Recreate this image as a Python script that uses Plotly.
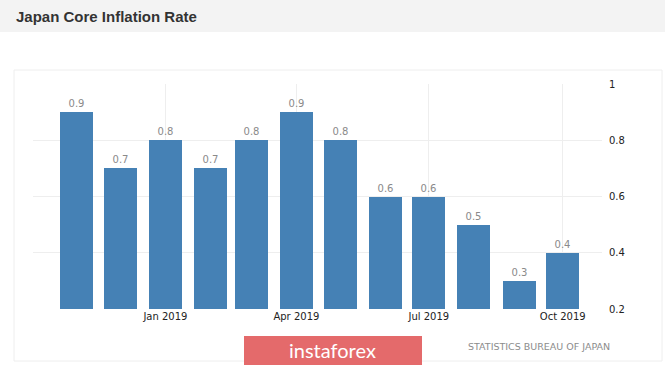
import plotly.graph_objects as go

# ---- data ----
months = ["2018-11-01", "2018-12-01", "2019-01-01", "2019-02-01", "2019-03-01", "2019-04-01",
          "2019-05-01", "2019-06-01", "2019-07-01", "2019-08-01", "2019-09-01", "2019-10-01"]
values = [0.9, 0.7, 0.8, 0.7, 0.8, 0.9, 0.8, 0.6, 0.6, 0.5, 0.3, 0.4]
tick_dates = ["2019-01-01", "2019-04-01", "2019-07-01", "2019-10-01"]
tick_labels = ["Jan 2019", "Apr 2019", "Jul 2019", "Oct 2019"]
y_ticks = [0.2, 0.4, 0.6, 0.8, 1]
y_tick_labels = ["0.2", "0.4", "0.6", "0.8", "1"]
title_text = "Japan Core Inflation Rate"
source_text = "STATISTICS BUREAU OF JAPAN"
watermark_text = "instaforex"

# ---- layout geometry (pixels) ----
W, H = 665, 367
L, R, T, B = 33, 63, 84, 58
pw, ph = W - L - R, H - T - B

def px(x):
    return (x - L) / pw

def py(y):
    return (H - B - y) / ph

DAY_MS = 86400000
fig = go.Figure()
fig.add_trace(go.Bar(
    x=months, y=values,
    width=[22.7 * DAY_MS] * len(values),
    marker=dict(color="#4581b5", line=dict(width=0)),
    text=[f"{v:.1f}" for v in values],
    textposition="outside",
    textfont=dict(family="DejaVu Sans", size=10, color="#8a8a8a"),
    cliponaxis=False,
    hoverinfo="x+y",
))

shapes = [
    # top banner
    dict(type="rect", xref="paper", yref="paper", x0=px(0), x1=px(W), y0=py(32), y1=py(0),
         fillcolor="#f3f3f3", line=dict(width=0), layer="below"),
    # card border
    dict(type="rect", xref="paper", yref="paper", x0=px(14), x1=px(662), y0=py(361), y1=py(70),
         fillcolor="rgba(0,0,0,0)", line=dict(color="#eeeeee", width=1), layer="below"),
    # watermark box
    dict(type="rect", xref="paper", yref="paper", x0=px(244), x1=px(422), y0=py(365), y1=py(336),
         fillcolor="#e46a6b", line=dict(width=0), layer="above"),
]

annotations = [
    dict(text=title_text, xref="paper", yref="paper", x=px(14), y=py(16), xanchor="left",
         yanchor="middle", showarrow=False,
         font=dict(family="Liberation Sans", size=15, color="#333333", weight="bold")),
    dict(text=source_text, xref="paper", yref="paper", x=px(612), y=py(346), xanchor="right",
         yanchor="middle", showarrow=False,
         font=dict(family="DejaVu Sans", size=9.5, color="#8c8c8c")),
    dict(text=watermark_text, xref="paper", yref="paper", x=px(332), y=py(350), xanchor="center",
         yanchor="middle", showarrow=False,
         font=dict(family="Lato", size=20, color="#ffffff")),
]

fig.update_layout(
    width=W, height=H,
    margin=dict(l=L, r=R, t=T, b=B, pad=0),
    paper_bgcolor="#ffffff", plot_bgcolor="#ffffff",
    showlegend=False,
    bargap=0,
    shapes=shapes,
    annotations=annotations,
    xaxis=dict(
        type="date",
        range=["2018-10-02", "2019-10-28"],
        tickmode="array", tickvals=tick_dates, ticktext=tick_labels,
        showgrid=True, gridcolor="#eeeeee", gridwidth=1,
        showline=False, zeroline=False, ticks="",
        tickfont=dict(family="DejaVu Sans", size=10, color="#222222"),
        fixedrange=True,
    ),
    yaxis=dict(
        side="right",
        range=[0.2, 1.0],
        tickmode="array", tickvals=y_ticks, ticktext=y_tick_labels,
        showgrid=True, gridcolor="#eeeeee", gridwidth=1,
        showline=False, zeroline=False, ticks="outside", ticklen=4, tickcolor="rgba(0,0,0,0)",
        tickfont=dict(family="DejaVu Sans", size=10, color="#222222"),
        fixedrange=True,
    ),
)

fig.write_html(
    "out.html",
    config={"displayModeBar": False},
    post_script="document.body.style.margin='0';document.body.style.overflow='hidden';",
)
